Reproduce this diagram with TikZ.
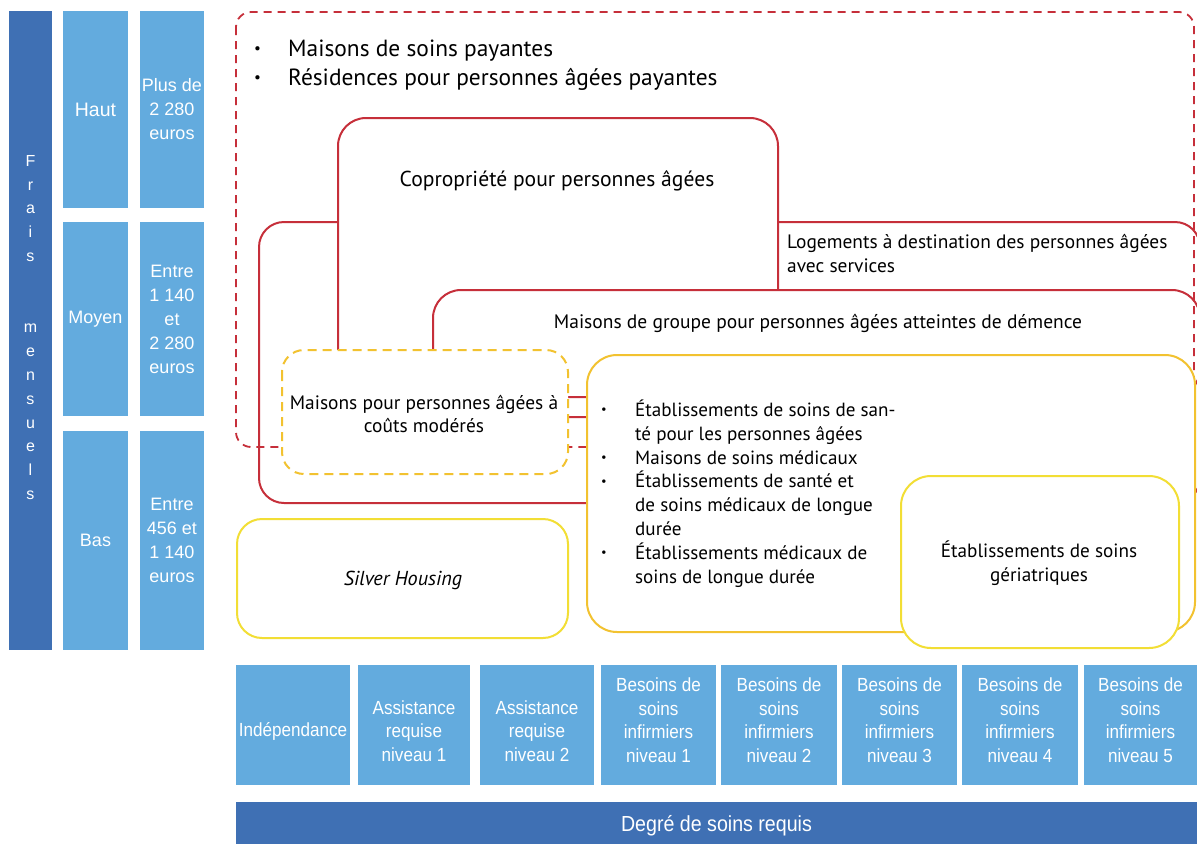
\documentclass[tikz,border=0pt]{standalone}
\usepackage{graphicx}
\usepackage{fontspec}
\setmainfont{PT Sans}
\newfontfamily\hel{Liberation Sans}
\newfontfamily\helc[FakeStretch=0.9]{Liberation Sans}
\definecolor{dblue}{RGB}{63,112,180}
\definecolor{lblue}{RGB}{99,171,222}
\definecolor{myred}{RGB}{198,47,58}
\definecolor{gold}{RGB}{242,194,48}
\definecolor{ylw}{RGB}{242,222,53}
\newcommand{\bul}{\makebox[34pt][l]{\raisebox{0.13em}{\scalebox{0.65}{•}}}}
\begin{document}
\begin{tikzpicture}[x=1pt,y=-1pt,
  lb/.style={fill=lblue,inner sep=0pt,outer sep=0pt,text=white,align=center,
    font=\hel\fontsize{18}{24}\selectfont},
  db/.style={fill=dblue,inner sep=0pt,outer sep=0pt,text=white,align=center},
  bt/.style={text=white,inner sep=0pt,align=center,font=\helc\fontsize{19}{23.5}\selectfont},
  redbox/.style={draw=myred,line width=2pt,fill=white},
  reddash/.style={draw=myred,line width=1.8pt,dash pattern=on 8pt off 6pt},
  ydash/.style={draw=gold,line width=2pt,dash pattern=on 9pt off 6pt,fill=white},
  ybox/.style={draw=gold,line width=2pt,fill=white},
  ybright/.style={draw=ylw,line width=2pt,fill=white},
  txt/.style={inner sep=0pt,text=black}]
\useasboundingbox (0,0) rectangle (1197,844);
\fill[white] (0,0) rectangle (1197,844);

% left column
\node[db,minimum width=43pt,minimum height=639pt] (frais) at (30.5,330.5) {};
\node[text=white,inner sep=0pt,align=center,font=\hel\fontsize{16}{23.8}\selectfont] (fraist) at (30.5,327.5)
  {F\\r\\a\\i\\s\\\strut\\\strut\\m\\e\\n\\s\\u\\e\\l\\s};
\node[lb,minimum width=65pt,minimum height=197pt,font=\hel\fontsize{19.5}{24}\selectfont] (haut) at (95.5,109.5) {Haut};
\node[lb,minimum width=65pt,minimum height=194pt] (moyen) at (95.5,319) {Moyen};
\node[lb,minimum width=65pt,minimum height=219pt] (bas) at (95.5,540.5) {Bas};
\node[lb,minimum width=64pt,minimum height=197pt] (hautv) at (172,109.5) {Plus de\\2 280\\euros};
\node[lb,minimum width=64pt,minimum height=194pt] (moyenv) at (172,319) {Entre\\1 140\\et\\2 280\\euros};
\node[lb,minimum width=64pt,minimum height=219pt] (basv) at (172,540.5) {Entre\\456 et\\1 140\\euros};

% frames
\draw[redbox,rounded corners=25pt] (259,222) rectangle (1200,503);
\draw[redbox,rounded corners=28pt] (338,118) rectangle (778,417);
\draw[redbox,rounded corners=28pt] (433,290) rectangle (1200,397);
\draw[reddash,rounded corners=15pt] (236,12) rectangle (1194,447);
\draw[ydash,rounded corners=22pt] (282,350) rectangle (568,474);
\draw[ybox,rounded corners=30pt] (587,355) rectangle (1195,632);
\draw[ybright,rounded corners=30pt] (901,476) rectangle (1179,648);
\draw[ybright,rounded corners=25pt] (237,519) rectangle (568,638);

% texts
\node[txt,anchor=west,align=left,font=\fontsize{23.4}{29}\selectfont] (payant) at (254,65.5)
  {\bul Maisons de soins payantes\\\bul Résidences pour personnes âgées payantes};
\node[txt,font=\fontsize{21.6}{24}\selectfont] (copro) at (557,181) {Copropriété pour personnes âgées};
\node[txt,anchor=west,align=left,font=\fontsize{19.4}{24}\selectfont] (logt) at (787,254)
  {Logements à destination des personnes âgées\\avec services};
\node[txt,font=\fontsize{19.5}{24}\selectfont] (groupe) at (818,323) {Maisons de groupe pour personnes âgées atteintes de démence};
\node[txt,align=center,font=\fontsize{19.4}{23.5}\selectfont] (modere) at (424,414) {Maisons pour personnes âgées à\\coûts modérés};
\node[txt,anchor=west,align=left,font=\fontsize{19.1}{23.86}\selectfont] (soins) at (601,493.5)
  {\bul Établissements de soins de san-\\
   \hspace*{34pt}té pour les personnes âgées\\
   \bul Maisons de soins médicaux\\
   \bul Établissements de santé et\\
   \hspace*{34pt}de soins médicaux de longue\\
   \hspace*{34pt}durée\\
   \bul Établissements médicaux de\\
   \hspace*{34pt}soins de longue durée};
\node[txt,align=center,font=\fontsize{19.2}{24}\selectfont] (geria) at (1039,563) {Établissements de soins\\gériatriques};
\node[txt,font=\itshape\fontsize{20.2}{24}\selectfont] (silver) at (403,580) {Silver Housing};

% bottom row
\node[lb,minimum width=114pt,minimum height=120pt] (c0) at (293,725) {};
\node[lb,minimum width=112pt,minimum height=120pt] (c1) at (414,725) {};
\node[lb,minimum width=114pt,minimum height=120pt] (c2) at (537,725) {};
\node[lb,minimum width=115pt,minimum height=120pt] (c3) at (658.5,725) {};
\node[lb,minimum width=116pt,minimum height=120pt] (c4) at (779,725) {};
\node[lb,minimum width=115pt,minimum height=120pt] (c5) at (899.5,725) {};
\node[lb,minimum width=116pt,minimum height=120pt] (c6) at (1020,725) {};
\node[lb,minimum width=113pt,minimum height=120pt] (c7) at (1140.5,725) {};
\node[bt] (t0) at (293,731) {Indépendance};
\node[bt] (t1) at (414,731) {Assistance\\requise\\niveau 1};
\node[bt] (t2) at (537,731) {Assistance\\requise\\niveau 2};
\node[bt] (t3) at (658.5,720) {Besoins de\\soins\\infirmiers\\niveau 1};
\node[bt] (t4) at (779,720) {Besoins de\\soins\\infirmiers\\niveau 2};
\node[bt] (t5) at (899.5,720) {Besoins de\\soins\\infirmiers\\niveau 3};
\node[bt] (t6) at (1020,720) {Besoins de\\soins\\infirmiers\\niveau 4};
\node[bt] (t7) at (1140.5,720) {Besoins de\\soins\\infirmiers\\niveau 5};
\node[db,minimum width=961pt,minimum height=42pt] (degre) at (716.5,823) {};
\node[text=white,inner sep=0pt,font=\helc\fontsize{21.8}{24}\selectfont] (degret) at (716.5,826) {Degré de soins requis};
\end{tikzpicture}
\end{document}
